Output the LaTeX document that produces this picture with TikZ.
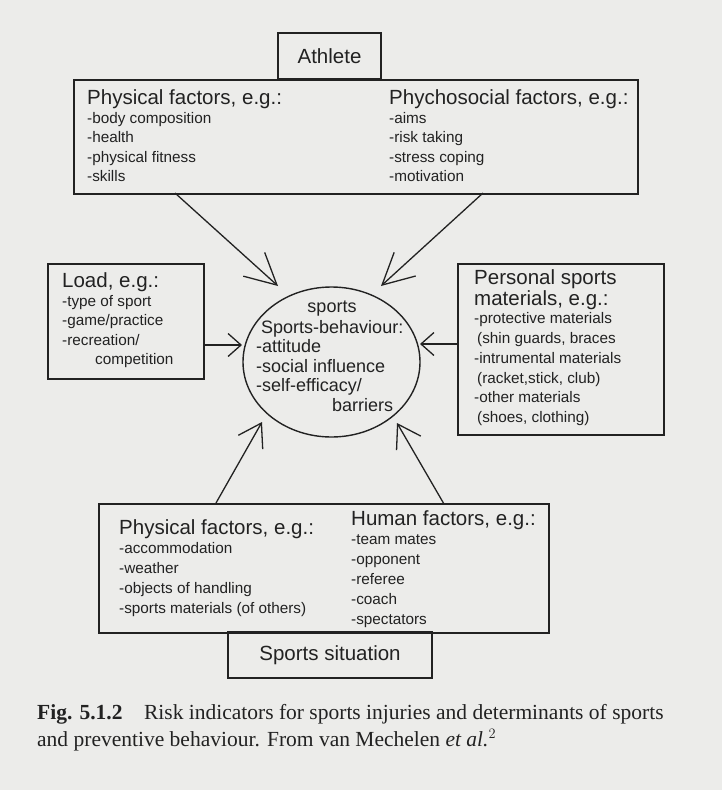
\documentclass[tikz,border=0pt]{standalone}
\usepackage{fontspec}
\setmainfont{Liberation Serif}
\newfontfamily\hv{Liberation Sans}
\usetikzlibrary{arrows.meta,shapes.geometric}
\definecolor{paper}{RGB}{236,236,234}
\definecolor{ink}{RGB}{34,34,34}
\tikzset{
  box/.style={draw=ink, line width=1.5pt, inner sep=0pt},
  hd/.style={anchor=base west, inner sep=0pt, text=ink, font=\hv\fontsize{20.5}{24}\selectfont},
  it/.style={anchor=base west, inner sep=0pt, text=ink, font=\hv\fontsize{15.3}{18}\selectfont},
  ct/.style={anchor=base west, inner sep=0pt, text=ink, font=\hv\fontsize{18}{21}\selectfont},
  arr/.style={draw=ink, line width=1.3pt},
  longtip/.style={arr, -{Straight Barb[length=31pt,width=32pt]}},
  midtip/.style={arr, -{Straight Barb[length=22pt,width=28pt]}},
  shorttip/.style={arr, -{Straight Barb[length=13pt,width=23pt]}},
}
\begin{document}
\begin{tikzpicture}[x=1pt,y=-1pt]
\fill[paper] (0,0) rectangle (722,790);
\useasboundingbox (0,0) rectangle (722,790);

% Athlete
\node[box, minimum width=103pt, minimum height=46pt, font=\hv\fontsize{20.5}{24}\selectfont, text=ink] (athlete) at (329.5,56) {Athlete};
\node[box, anchor=north west, minimum width=564pt, minimum height=114pt] (top) at (73,79) {};
\node[hd] (th1) at (87,104) {Physical factors, e.g.:};
\node[it] (ti1) at (87,123) {-body composition};
\node[it] (ti2) at (87,142) {-health};
\node[it] (ti3) at (87,162) {-physical fitness};
\node[it] (ti4) at (87,181) {-skills};
\node[hd] (th2) at (389,104) {Phychosocial factors, e.g.:};
\node[it] (tj1) at (389,123) {-aims};
\node[it] (tj2) at (389,142) {-risk taking};
\node[it] (tj3) at (389,162) {-stress coping};
\node[it] (tj4) at (389,181) {-motivation};

% Load
\node[box, anchor=north west, minimum width=156pt, minimum height=115pt] (load) at (47,263) {};
\node[hd] (lh) at (62,287) {Load, e.g.:};
\node[it] (li1) at (62,306) {-type of sport};
\node[it] (li2) at (62,325) {-game/practice};
\node[it] (li3) at (62,345) {-recreation/};
\node[it] (li4) at (95,364) {competition};

% Circle
\node[draw=ink, line width=1.4pt, ellipse, minimum width=177pt, minimum height=150pt, inner sep=0pt] (circ) at (331.5,362) {};
\node[ct, anchor=base] (c0) at (332,312) {sports};
\node[ct] (c1) at (261,333) {Sports-behaviour:};
\node[ct] (c2) at (256,352) {-attitude};
\node[ct] (c3) at (256,372) {-social influence};
\node[ct] (c4) at (256,391) {-self-efficacy/};
\node[ct] (c5) at (332,411) {barriers};

% Personal
\node[box, anchor=north west, minimum width=206pt, minimum height=171pt] (pers) at (457,263) {};
\node[hd] (ph1) at (474,284) {Personal sports};
\node[hd] (ph2) at (474,305) {materials, e.g.:};
\node[it] (pi1) at (474,323) {-protective materials};
\node[it] (pi2) at (477,343) {(shin guards, braces};
\node[it] (pi3) at (474,363) {-intrumental materials};
\node[it] (pi4) at (477,383) {(racket,stick, club)};
\node[it] (pi5) at (474,402) {-other materials};
\node[it] (pi6) at (477,422) {(shoes, clothing)};

% Bottom
\node[box, anchor=north west, minimum width=450pt, minimum height=129pt] (bot) at (98,503) {};
\node[hd] (bh1) at (119,534) {Physical factors, e.g.:};
\node[it] (bi1) at (119,553) {-accommodation};
\node[it] (bi2) at (119,573) {-weather};
\node[it] (bi3) at (119,593) {-objects of handling};
\node[it] (bi4) at (119,613) {-sports materials (of others)};
\node[hd] (bh2) at (351,525) {Human factors, e.g.:};
\node[it] (bj1) at (351,544) {-team mates};
\node[it] (bj2) at (351,564) {-opponent};
\node[it] (bj3) at (351,584) {-referee};
\node[it] (bj4) at (351,604) {-coach};
\node[it] (bj5) at (351,624) {-spectators};
\node[box, minimum width=204pt, minimum height=46pt, font=\hv\fontsize{20.5}{24}\selectfont, text=ink] (sit) at (330,655) {Sports situation};

% arrow end points
\coordinate (a1s) at (175,193);
\coordinate (a1e) at (278,286);
\coordinate (a2s) at (483,193);
\coordinate (a2e) at (381,286);
\coordinate (a3s) at (203,345);
\coordinate (a3e) at (242,345);
\coordinate (a4s) at (457,344);
\coordinate (a4e) at (420,344);
\coordinate (a5s) at (216,503);
\coordinate (a5e) at (262,422);
\coordinate (a6s) at (444,504);
\coordinate (a6e) at (397,423);
\draw[longtip] (a1s) -- (a1e);
\draw[longtip] (a2s) -- (a2e);
\draw[shorttip] (a3s) -- (a3e);
\draw[shorttip] (a4s) -- (a4e);
\draw[midtip] (a5s) -- (a5e);
\draw[midtip] (a6s) -- (a6e);

% caption
\node[anchor=base west, inner sep=0pt, text=ink, font=\fontsize{21.5}{27}\selectfont] (cap1) at (37,719) {\textbf{Fig. 5.1.2}\hspace{1em}Risk indicators for sports injuries and determinants of sports};
\node[anchor=base west, inner sep=0pt, text=ink, font=\fontsize{21.5}{27}\selectfont] (cap2) at (37,746) {and preventive behaviour. From van Mechelen \textit{et al.}$^{2}$};
\end{tikzpicture}
\end{document}
